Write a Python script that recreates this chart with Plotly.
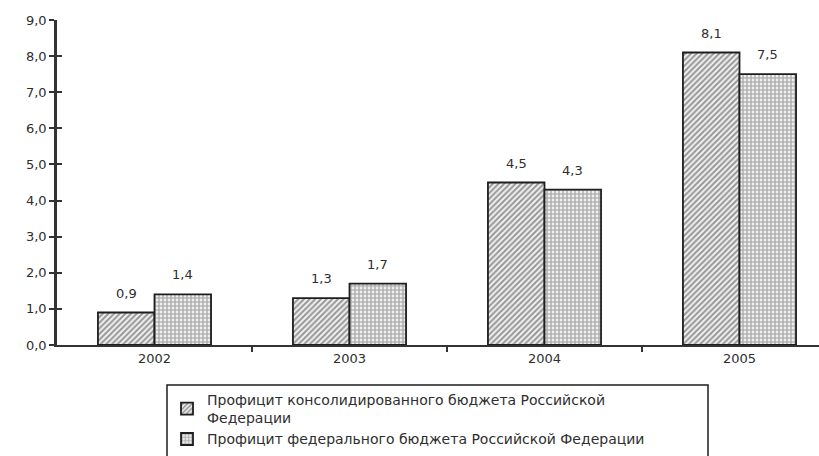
import plotly.graph_objects as go

# Budget surplus, % of GDP
years = ["2002", "2003", "2004", "2005"]
consolidated = [0.9, 1.3, 4.5, 8.1]
federal = [1.4, 1.7, 4.3, 7.5]
series_names = [
    "Профицит консолидированного бюджета Российской<br>Федерации",
    "Профицит федерального бюджета Российской Федерации",
]
y_ticks = [0, 1, 2, 3, 4, 5, 6, 7, 8, 9]

FONT = "DejaVu Sans"
TEXT = "#2e2e2e"
AXIS = "#333333"

xs = list(range(len(years)))

fig = go.Figure()
fig.add_trace(go.Bar(
    x=xs, y=consolidated, name=series_names[0],
    marker=dict(color="white", line=dict(color="#1e1e1e", width=1.8),
                pattern=dict(shape="/", fgcolor="#3a3a3a", bgcolor="#f2f2f2",
                             size=4, solidity=0.5)),
))
fig.add_trace(go.Bar(
    x=xs, y=federal, name=series_names[1],
    marker=dict(color="white", line=dict(color="#1e1e1e", width=1.8),
                pattern=dict(shape="+", fgcolor="#555555", bgcolor="#eeeeee",
                             size=4, solidity=0.5)),
))

# value labels above each bar
annotations = []
for vals, dx in ((consolidated, -0.145), (federal, 0.145)):
    for i, v in enumerate(vals):
        annotations.append(dict(
            x=i + dx, y=v, xref="x", yref="y",
            text=f"{v:.1f}".replace(".", ","), showarrow=False,
            yanchor="bottom", yshift=10,
            font=dict(family=FONT, size=13, color=TEXT),
        ))

fig.update_layout(
    width=819, height=456,
    margin=dict(l=57, r=0, t=20, b=111, autoexpand=False),
    paper_bgcolor="white", plot_bgcolor="white",
    barmode="group", bargap=0.42, bargroupgap=0,
    separators=", ",
    font=dict(family=FONT, size=13, color=TEXT),
    annotations=annotations,
    showlegend=True,
    legend=dict(
        xref="container", yref="container",
        x=167 / 819, y=1 - 384 / 456, xanchor="left", yanchor="top",
        bgcolor="rgba(0,0,0,0)", borderwidth=0,
        font=dict(family=FONT, size=14, color=TEXT),
        itemwidth=30, tracegroupgap=0,
    ),
    shapes=[dict(
        type="rect", xref="paper", yref="paper",
        x0=(167 - 57) / 762, x1=(708 - 57) / 762,
        y0=-(470 - 345) / 325, y1=-(385 - 345) / 325,
        line=dict(color="#1e1e1e", width=1.5), fillcolor="rgba(0,0,0,0)",
        layer="above",
    )],
    xaxis=dict(
        range=[-0.5, -0.5 + 762 / 195],
        tickmode="array", tickvals=xs, ticktext=years,
        ticks="", showgrid=False, zeroline=False,
        showline=True, linecolor=AXIS, linewidth=2,
        tickfont=dict(family=FONT, size=13, color=TEXT),
        minor=dict(tickmode="array", tickvals=[0.5, 1.5, 2.5],
                   ticks="outside", ticklen=5, tickwidth=1.5, tickcolor=AXIS),
    ),
    yaxis=dict(
        range=[0, 9], tickmode="array", tickvals=y_ticks,
        tickformat=".1f", ticks="outside", ticklen=5, tickwidth=2,
        tickcolor=AXIS, showgrid=False, zeroline=False,
        showline=True, linecolor=AXIS, linewidth=2.5,
        tickfont=dict(family=FONT, size=13, color=TEXT),
    ),
    yaxis2=dict(
        overlaying="y", matches="y", side="left", anchor="x",
        tickmode="array", tickvals=y_ticks, ticks="inside", ticklen=5,
        tickwidth=2, tickcolor=AXIS, showticklabels=False,
        showgrid=False, zeroline=False, showline=False,
    ),
)

# invisible trace that carries the inner tick marks of the second axis
fig.add_trace(go.Scatter(x=[0], y=[0], yaxis="y2", mode="markers",
                         marker=dict(opacity=0), showlegend=False,
                         hoverinfo="skip"))

fig.write_html("out.html")
